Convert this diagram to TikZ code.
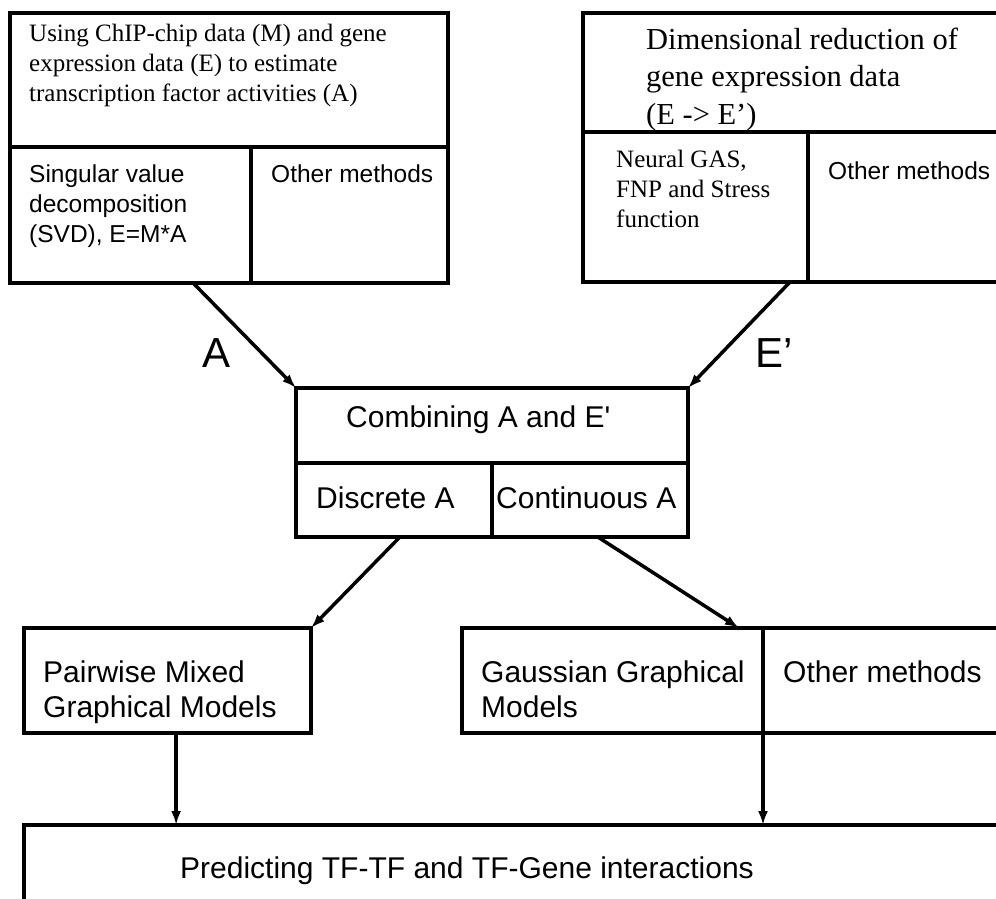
\documentclass[tikz,border=0pt]{standalone}
\usepackage{fontspec}
\setmainfont{Liberation Serif}
\setsansfont{Liberation Sans}
\usepackage{tikz}
\usetikzlibrary{calc}
\usetikzlibrary{arrows.meta}
\tikzset{cell/.style={draw, line width=4pt, anchor=north west, inner sep=0pt, outer sep=0pt}}
\tikzset{serif/.style={anchor=base west, inner sep=0pt, align=left, font=\rmfamily\fontsize{25}{30}\selectfont}}
\tikzset{sans/.style={anchor=base west, inner sep=0pt, align=left, font=\sffamily\fontsize{24.5}{30}\selectfont}}
\tikzset{bigsans/.style={anchor=base west, inner sep=0pt, align=left, font=\sffamily\fontsize{30}{35}\selectfont}}
\tikzset{conn/.style={line width=3.5pt, -{Latex[length=14pt,width=10pt]}}}

\begin{document}
\begin{tikzpicture}[x=1pt, y=-1pt]
\useasboundingbox (0,0) rectangle (996,899);
\clip (0,0) rectangle (996,899);
% top left box (text nodes sit on the baseline of their last line)
\node[cell, minimum width=438pt, minimum height=134pt] (tlhead) at (10,13) {};
\node[cell, minimum width=241pt, minimum height=136pt] (tlsvd) at (10,147) {};
\node[cell, minimum width=197pt, minimum height=136pt] (tlother) at (251,147) {};
\node[serif] (tltext) at (29,102) {Using ChIP-chip data (M) and gene\\expression data (E) to estimate\\transcription factor activities (A)};
\node[sans] (svdtext) at (29,242) {Singular value\\decomposition\\(SVD), E=M*A};
\node[sans] (tlothertext) at (271,182) {Other methods};
% top right box
\node[cell, minimum width=420pt, minimum height=119pt] (trhead) at (583,13) {};
\node[cell, minimum width=225pt, minimum height=150pt] (trneural) at (583,132) {};
\node[cell, minimum width=195pt, minimum height=150pt] (trother) at (808,132) {};
\node[serif, font=\rmfamily\fontsize{30.5}{37}\selectfont] (trtext) at (646,124) {Dimensional reduction of\\gene expression data\\(E -> E’)};
\node[serif] (neuraltext) at (616,227) {Neural GAS,\\FNP and Stress\\function};
\node[sans] (trothertext) at (828,179) {Other methods};
% combining
\node[cell, minimum width=392pt, minimum height=75pt] (comb) at (296,388) {};
\node[cell, minimum width=196pt, minimum height=74pt] (disc) at (296,463) {};
\node[cell, minimum width=196pt, minimum height=74pt] (cont) at (492,463) {};
\node[bigsans] (combtext) at (346,427) {Combining A and E\textquotesingle};
\node[bigsans] (disctext) at (316,508) {Discrete A};
\node[bigsans] (conttext) at (496,508) {Continuous A};
% models
\node[cell, minimum width=287pt, minimum height=105pt] (pmgm) at (24,628) {};
\node[cell, minimum width=301pt, minimum height=105pt] (ggm) at (462,628) {};
\node[cell, minimum width=240pt, minimum height=105pt] (ggother) at (763,628) {};
\node[bigsans] (pmgmtext) at (43,717) {Pairwise Mixed\\Graphical Models};
\node[bigsans] (ggmtext) at (481,717) {Gaussian Graphical\\Models};
\node[bigsans] (ggothertext) at (783,682) {Other methods};
% prediction
\node[cell, minimum width=980pt, minimum height=100pt] (predict) at (24,825) {};
\node[bigsans] (predicttext) at (180,878) {Predicting TF-TF and TF-Gene interactions};
% edge labels
\node[anchor=base west, inner sep=0pt, font=\sffamily\fontsize{42}{42}\selectfont] (alabel) at (202,367) {A};
\node[anchor=base west, inner sep=0pt, font=\sffamily\fontsize{42}{42}\selectfont] (elabel) at (755,367) {E’};
% arrows
\draw[conn] ($(tlsvd.south west)!0.76!(tlsvd.south east)$) -- (comb.north west);
\draw[conn] ($(trneural.south west)!0.92!(trneural.south east)$) -- (comb.north east);
\draw[conn] ($(disc.south west)!0.53!(disc.south east)$) -- (pmgm.north east);
\draw[conn] ($(cont.south west)!0.54!(cont.south east)$) -- ($(ggm.north west)!0.92!(ggm.north east)$);
\coordinate (pmgmout) at ($(pmgm.south west)!0.53!(pmgm.south east)$);
\draw[conn] (pmgmout) -- (pmgmout |- predict.north);
\draw[conn] (ggm.south east) -- (ggm.south east |- predict.north);
\end{tikzpicture}
\end{document}
